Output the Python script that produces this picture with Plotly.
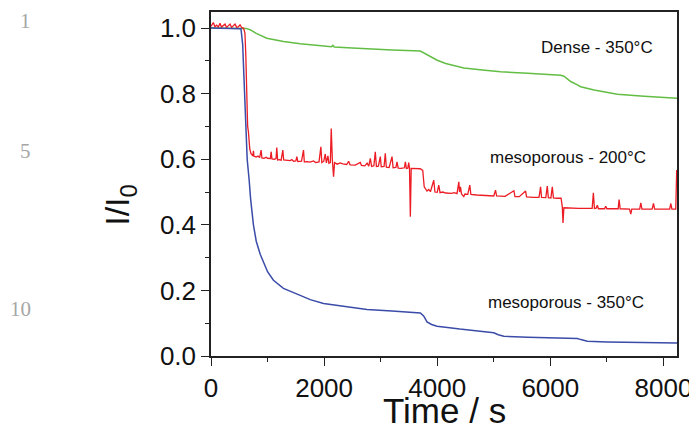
import plotly.graph_objects as go

# ---- data ----
dense_t = [0, 300, 560, 620, 691, 800, 987, 1281, 1577, 2108, 2130, 2155, 2180, 2500, 2758,
           3200, 3702, 3760, 3850, 4000, 4150, 4290, 4470, 4800, 5120, 5600, 6183, 6241,
           6360, 6478, 6537, 6773, 7186, 7658, 8240]
dense_v = [1.0, 1.0, 1.0, 0.999, 0.995, 0.984, 0.969, 0.959, 0.952, 0.942, 0.943, 0.947, 0.942,
           0.939, 0.936, 0.933, 0.930, 0.925, 0.916, 0.902, 0.892, 0.885, 0.878, 0.872, 0.867,
           0.862, 0.856, 0.853, 0.837, 0.827, 0.821, 0.811, 0.798, 0.792, 0.786]

meso350_t = [0, 500, 530, 560, 590, 614, 640, 675, 700, 750, 800, 870, 1000, 1104, 1281, 1577,
             1754, 1990, 2400, 2758, 3200, 3702, 3760, 3820, 3900, 3997, 4400, 4942, 5000,
             5080, 5178, 5600, 6000, 6478, 6540, 6655, 7000, 7500, 8240]
meso350_v = [1.0, 1.0, 0.998, 0.95, 0.82, 0.70, 0.60, 0.536, 0.48, 0.40, 0.35, 0.31, 0.257,
             0.231, 0.206, 0.185, 0.172, 0.160, 0.150, 0.142, 0.137, 0.131, 0.122, 0.104, 0.096,
             0.091, 0.082, 0.073, 0.071, 0.065, 0.060, 0.057, 0.055, 0.053, 0.050, 0.045, 0.043,
             0.042, 0.040]

meso200_t = [0, 41, 70, 100, 130, 159, 185, 215, 248, 275, 305, 337, 365, 395, 425, 455, 485,
             514, 545, 575, 600, 615, 632, 648, 661, 670, 685, 705, 725, 740, 750, 760, 800,
             830, 860, 886, 900, 940, 975, 1000, 1050, 1063, 1078, 1120, 1150, 1163, 1178,
             1215, 1240, 1270, 1285, 1330, 1400, 1430, 1460, 1500, 1518, 1535, 1600, 1636,
             1650, 1700, 1750, 1813, 1850, 1910, 1943, 1960, 1995, 2020, 2040, 2067, 2085,
             2110, 2126, 2145, 2167, 2185, 2230, 2285, 2330, 2400, 2433, 2460, 2550, 2640,
             2660, 2720, 2760, 2790, 2817, 2840, 2880, 2905, 2925, 2960, 2994, 3010, 3060,
             3082, 3100, 3150, 3201, 3220, 3270, 3289, 3310, 3360, 3420, 3437, 3455, 3480,
             3496, 3510, 3525, 3540, 3600, 3700, 3744, 3770, 3820, 3850, 3880, 3939, 3960,
             4000, 4027, 4050, 4100, 4150, 4250, 4300, 4350, 4382, 4395, 4411, 4430, 4470,
             4490, 4540, 4576, 4595, 4700, 4800, 5000, 5031, 5050, 5200, 5356, 5375, 5450,
             5563, 5580, 5700, 5800, 5828, 5845, 5920, 5946, 5965, 6010, 6035, 6055, 6120,
             6190, 6212, 6224, 6240, 6300, 6500, 6740, 6761, 6780, 6810, 6832, 6850, 6960,
             6980, 7000, 7100, 7200, 7216, 7235, 7400, 7423, 7440, 7580, 7600, 7620, 7800,
             7824, 7845, 8000, 8110, 8131, 8150, 8218, 8235]
meso200_v = [1.005, 1.017, 1.004, 1.009, 1.003, 1.015, 1.003, 1.008, 1.012, 1.002, 1.007, 1.012,
             1.002, 1.006, 1.012, 1.002, 1.004, 1.010, 1.001, 1.0, 0.985, 0.92, 0.78, 0.70,
             0.685, 0.66, 0.632, 0.618, 0.612, 0.610, 0.626, 0.609, 0.607, 0.610, 0.605, 0.628,
             0.604, 0.603, 0.606, 0.603, 0.602, 0.623, 0.601, 0.600, 0.602, 0.636, 0.598, 0.599,
             0.597, 0.628, 0.598, 0.597, 0.596, 0.599, 0.594, 0.595, 0.608, 0.593, 0.594, 0.628,
             0.592, 0.593, 0.591, 0.595, 0.590, 0.592, 0.638, 0.590, 0.594, 0.616, 0.589, 0.610,
             0.588, 0.590, 0.694, 0.600, 0.547, 0.590, 0.585, 0.589, 0.586, 0.584, 0.594, 0.583,
             0.582, 0.590, 0.581, 0.580, 0.588, 0.579, 0.603, 0.578, 0.580, 0.623, 0.578, 0.579,
             0.608, 0.577, 0.578, 0.618, 0.576, 0.575, 0.608, 0.574, 0.575, 0.592, 0.573, 0.572,
             0.574, 0.592, 0.572, 0.573, 0.590, 0.573, 0.425, 0.572, 0.571, 0.571, 0.566, 0.516,
             0.503, 0.508, 0.501, 0.536, 0.500, 0.499, 0.521, 0.498, 0.500, 0.497, 0.496, 0.498,
             0.495, 0.531, 0.500, 0.516, 0.494, 0.486, 0.494, 0.493, 0.521, 0.493, 0.491, 0.490,
             0.488, 0.506, 0.488, 0.487, 0.504, 0.486, 0.486, 0.503, 0.485, 0.484, 0.484, 0.516,
             0.484, 0.483, 0.518, 0.483, 0.482, 0.516, 0.482, 0.481, 0.481, 0.455, 0.406, 0.452,
             0.451, 0.450, 0.450, 0.498, 0.450, 0.451, 0.460, 0.449, 0.449, 0.457, 0.449, 0.449,
             0.449, 0.477, 0.449, 0.448, 0.433, 0.448, 0.448, 0.467, 0.448, 0.448, 0.465, 0.448,
             0.448, 0.448, 0.465, 0.448, 0.448, 0.567]

x_ticks = [0, 2000, 4000, 6000, 8000]
y_ticks = [0.0, 0.2, 0.4, 0.6, 0.8, 1.0]
labels = ["Dense - 350°C", "mesoporous - 200°C", "mesoporous - 350°C"]
line_numbers = ["1", "5", "10"]
x_title = "Time / s"
y_title = "I/I<sub>0</sub>"

FONT = "Arial, Liberation Sans, sans-serif"

fig = go.Figure()
fig.add_trace(go.Scatter(x=dense_t, y=dense_v, mode="lines",
                         line=dict(color="#63bd45", width=1.5), name=labels[0]))
fig.add_trace(go.Scatter(x=meso200_t, y=meso200_v, mode="lines",
                         line=dict(color="#ec1c24", width=1.3), name=labels[1]))
fig.add_trace(go.Scatter(x=meso350_t, y=meso350_v, mode="lines",
                         line=dict(color="#3b4ba8", width=1.5), name=labels[2]))

label_font = dict(family=FONT, size=17, color="#111")
for txt, xx, yy in [(labels[0], 6833, 0.941), (labels[1], 6315, 0.605), (labels[2], 6283, 0.162)]:
    fig.add_annotation(x=xx, y=yy, xref="x", yref="y", text=txt, showarrow=False,
                       font=label_font, xanchor="center", yanchor="middle")

for txt, yy in zip(line_numbers, [0.9724, 0.597, 0.1366]):
    fig.add_annotation(x=-0.382, y=yy, xref="paper", yref="paper", text=txt, showarrow=False,
                       font=dict(family="Liberation Serif, serif", size=21, color="#a6a6a6"),
                       xanchor="right", yanchor="middle")

# axis titles as annotations for exact placement
fig.add_annotation(x=0.5, y=-0.157, xref="paper", yref="paper", text=x_title, showarrow=False,
                   font=dict(family=FONT, size=35, color="#111"), xanchor="center", yanchor="middle")
fig.add_annotation(x=-0.195, y=0.44, xref="paper", yref="paper", text=y_title, showarrow=False,
                   textangle=-90, font=dict(family=FONT, size=34, color="#111"),
                   xanchor="center", yanchor="middle")

axis_common = dict(showline=True, linecolor="#222", linewidth=1.5, mirror=True,
                   ticks="outside", ticklen=8, tickwidth=1.3, tickcolor="#222",
                   showgrid=False, zeroline=False, automargin=False,
                   tickfont=dict(family=FONT, size=26, color="#111"))

# the page body adds an 8px offset, so the figure is sized 8px smaller
fig.update_layout(
    width=689, height=421,
    margin=dict(l=203, r=20, t=4, b=73),
    paper_bgcolor="white", plot_bgcolor="white",
    showlegend=False,
    xaxis=dict(range=[0, 8240], tickvals=x_ticks, ticktext=[str(v) for v in x_ticks],
               minor=dict(ticks="outside", dtick=1000, ticklen=4, tickcolor="#222"),
               **axis_common),
    yaxis=dict(range=[0, 1.049], tickvals=y_ticks, ticktext=[f"{v:.1f}" for v in y_ticks],
               minor=dict(ticks="outside", dtick=0.1, ticklen=4, tickcolor="#222"),
               **axis_common),
)

fig.write_html("out.html")
